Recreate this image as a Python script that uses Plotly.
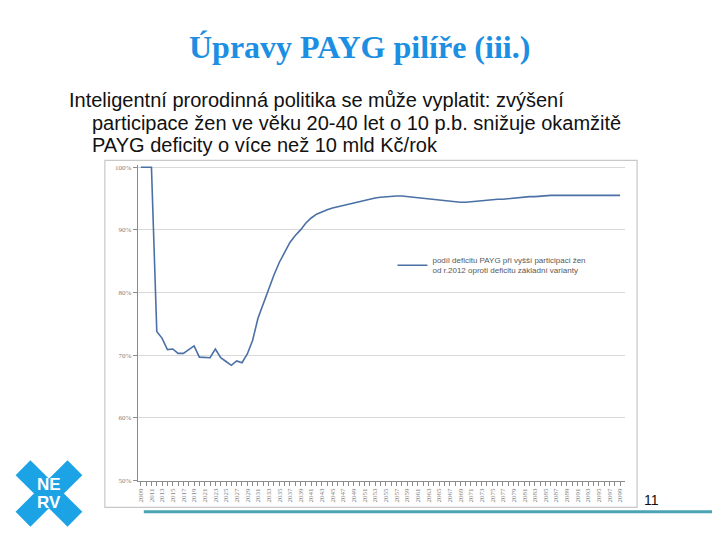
import plotly.graph_objects as go

W, H = 720, 540
OFF = 8  # browser body margin
FW, FH = W - OFF, H - OFF

years = list(range(2009, 2100))
share = [
    100.0, 100.0, 100.0, 73.8, 72.7, 70.9, 71.0, 70.3, 70.3, 70.9,
    71.5, 69.7, 69.6, 69.6, 71.0, 69.6, 69.0, 68.4, 69.1, 68.8,
    70.2, 72.4, 75.9, 78.3, 80.6, 82.8, 84.8, 86.5, 88.0, 89.1,
    90.0, 91.1, 91.9, 92.5, 92.9, 93.2, 93.5, 93.7, 94.0, 94.2,
    94.4, 94.6, 94.8, 95.0, 95.1, 95.2, 95.3, 95.4, 95.4, 95.4,
    95.3, 95.2, 95.1, 95.0, 94.9, 94.8, 94.7, 94.6, 94.5, 94.5,
    94.4, 94.4, 94.5, 94.5, 94.6, 94.7, 94.8, 94.9, 94.9, 95.0,
    95.1, 95.2, 95.2, 95.3, 95.3, 95.4, 95.4, 95.5, 95.5, 95.5,
    95.5, 95.5, 95.5, 95.5, 95.5, 95.5, 95.5, 95.5, 95.5, 95.5,
    95.5,
]
year_ticks = list(range(2009, 2100, 2))
series_name = "podíl deficitu PAYG při vyšší participaci žen<br>od r.2012 oproti deficitu základní varianty"

title = "Úpravy PAYG pilíře (iii.)"
body_lines = [
    "Inteligentní prorodinná politika se může vyplatit: zvýšení",
    "participace žen ve věku 20-40 let o 10 p.b. snižuje okamžitě",
    "PAYG deficity o více než 10 mld Kč/rok",
]


def px(x):
    return (x - OFF) / FW


def py(y):
    return (H - y) / FH


fig = go.Figure()
fig.add_trace(go.Scatter(
    x=years, y=share, mode="lines", name=series_name,
    line=dict(color="#4a70a6", width=1.6),
    showlegend=True,
))

fig.update_layout(
    width=FW, height=FH,
    margin=dict(l=0, r=0, t=0, b=0),
    paper_bgcolor="white",
    plot_bgcolor="white",
    font=dict(family="Liberation Sans"),
    showlegend=True,
    legend=dict(
        x=px(392), y=py(249), xanchor="left", yanchor="top",
        font=dict(size=8, color="#595959", family="Liberation Sans"),
        bgcolor="rgba(0,0,0,0)", itemwidth=30, tracegroupgap=0,
    ),
    xaxis=dict(
        domain=[px(137), px(625)],
        range=[2008.44, 2099.94],
        tickmode="array", tickvals=year_ticks,
        ticktext=[str(y) for y in year_ticks],
        tickangle=-90,
        ticks="outside", ticklen=4, tickcolor="#8c8c8c",
        tickfont=dict(size=7, color="#7f7f7f", family="Liberation Serif"),
        minor=dict(dtick=1, tick0=2009, ticks="outside", ticklen=4, tickcolor="#8c8c8c"),
        showline=True, linecolor="#8c8c8c", linewidth=1,
        showgrid=False, zeroline=False,
    ),
    yaxis=dict(
        domain=[py(484), py(165.1)],
        range=[50, 100.3],
        tick0=50, dtick=10, ticksuffix="%",
        ticks="outside", ticklen=4, tickcolor="#8c8c8c",
        tickfont=dict(size=7, color="#7f7f7f", family="Liberation Serif"),
        showline=True, linecolor="#8c8c8c", linewidth=1,
        showgrid=True, gridcolor="#d9d9d9", gridwidth=1,
        zeroline=False,
    ),
)

shapes = [
    # chart frame
    dict(type="rect", xref="paper", yref="paper",
         x0=px(104), x1=px(637), y0=py(511), y1=py(160),
         line=dict(color="#c8c8c8", width=1.2), fillcolor="rgba(0,0,0,0)", layer="below"),
    # teal footer rule
    dict(type="line", xref="paper", yref="paper",
         x0=px(143), x1=px(720), y0=py(515.5), y1=py(515.5),
         line=dict(color="#4aa4b3", width=3)),
    # logo X
    dict(type="line", xref="paper", yref="paper",
         x0=px(22), y0=py(471), x1=px(74), y1=py(523),
         line=dict(color="#1ba3e6", width=21)),
    dict(type="line", xref="paper", yref="paper",
         x0=px(74), y0=py(471), x1=px(22), y1=py(523),
         line=dict(color="#1ba3e6", width=21)),
]
fig.update_layout(shapes=shapes)

ann = [
    dict(text=f"<b>{title}</b>", x=px(359), y=py(45), xref="paper", yref="paper",
         showarrow=False, xanchor="center", yanchor="middle",
         font=dict(family="Liberation Serif", size=32, color="#1c8fe2")),
    dict(text="11", x=px(642), y=py(504), xref="paper", yref="paper",
         showarrow=False, xanchor="left", yanchor="middle",
         font=dict(family="Liberation Sans", size=14, color="#111111")),
    dict(text="<b>NE</b>", x=px(48), y=py(488), xref="paper", yref="paper",
         showarrow=False, xanchor="center", yanchor="middle",
         font=dict(family="Liberation Sans", size=17, color="white")),
    dict(text="<b>RV</b>", x=px(48), y=py(506), xref="paper", yref="paper",
         showarrow=False, xanchor="center", yanchor="middle",
         font=dict(family="Liberation Sans", size=17, color="white")),
]
body_x = [66, 89, 89]
body_y = [99, 122, 145]
for txt, bx, by in zip(body_lines, body_x, body_y):
    ann.append(dict(text=txt, x=px(bx), y=py(by), xref="paper", yref="paper",
                    showarrow=False, xanchor="left", yanchor="middle",
                    font=dict(family="Liberation Sans", size=20, color="#111111")))
fig.update_layout(annotations=ann)

fig.write_html("out.html")
